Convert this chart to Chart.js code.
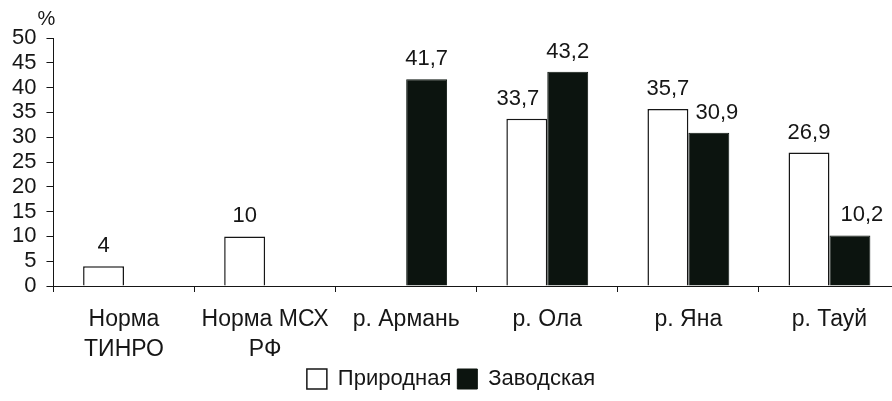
<!DOCTYPE html>
<html>
<head>
<meta charset="utf-8">
<script src="https://cdn.jsdelivr.net/npm/chart.js@4.4.1/dist/chart.umd.min.js"></script>
<style>
  html, body { margin: 0; padding: 0; background: #fff; overflow: hidden; }
  #wrap { width: 900px; height: 401px; }
</style>
</head>
<body>
<div id="wrap"><canvas id="smoltChart" width="900" height="401"></canvas></div>
<script>
const categories = [
    ['Норма', 'ТИНРО'],
    ['Норма МСХ', 'РФ'],
    'р. Армань',
    'р. Ола',
    'р. Яна',
    'р. Тауй'
];
const seriesNames = ['Природная', 'Заводская'];
const natural = [4, 10, null, 33.7, 35.7, 26.9];
const hatchery = [null, null, 41.7, 43.2, 30.9, 10.2];
const yTicks = [0, 5, 10, 15, 20, 25, 30, 35, 40, 45, 50];

const FONT = "'Liberation Sans', Arial, sans-serif";
const INK = '#161616';
const DARK = '#0c140f';

Chart.defaults.font.family = FONT;
Chart.defaults.color = INK;

// values above the bars, written with a decimal comma;
// a few are nudged sideways so neighbours don't collide
const valueLabels = {
    id: 'valueLabels',
    afterDatasetsDraw(chart, args, opts) {
        const ctx = chart.ctx;
        const shift = opts.shift || {};
        ctx.save();
        ctx.font = '22px ' + FONT;
        ctx.fillStyle = INK;
        ctx.textAlign = 'center';
        ctx.textBaseline = 'alphabetic';
        chart.data.datasets.forEach((ds, i) => {
            const meta = chart.getDatasetMeta(i);
            meta.data.forEach((bar, j) => {
                const v = ds.data[j];
                if (v === null || v === undefined) return;
                const txt = String(v).replace('.', ',');
                const dx = shift[i + ':' + j] || 0;
                ctx.fillText(txt, bar.x + dx, bar.y - 14);
            });
        });
        // unit mark over the value axis
        ctx.font = '20px ' + FONT;
        ctx.textAlign = 'left';
        ctx.fillText('%', chart.chartArea.left - 16, chart.chartArea.top - 13);
        ctx.restore();
    }
};

const ctx = document.getElementById('smoltChart').getContext('2d');
new Chart(ctx, {
    type: 'bar',
    data: {
        labels: categories,
        datasets: [
            {
                label: seriesNames[0],
                data: natural,
                backgroundColor: '#ffffff',
                borderColor: INK,
                borderWidth: 1.5,
                borderSkipped: 'bottom'
            },
            {
                label: seriesNames[1],
                data: hatchery,
                backgroundColor: DARK,
                borderColor: DARK,
                borderWidth: 1
            }
        ]
    },
    options: {
        responsive: false,
        animation: false,
        devicePixelRatio: 1,
        layout: { padding: { top: 38, left: 2, right: 0, bottom: 1 } },
        categoryPercentage: 0.58,
        barPercentage: 1,
        plugins: {
            tooltip: { enabled: false },
            title: { display: false },
            valueLabels: { shift: { '0:3': -9, '1:4': 8, '1:5': 12 } },
            legend: {
                position: 'bottom',
                labels: {
                    font: { size: 22 },
                    boxWidth: 20,
                    boxHeight: 20,
                    padding: 6,
                    color: INK
                }
            }
        },
        scales: {
            x: {
                // second label lines may hang into the legend band
                afterFit(scale) {
                    scale.height = 76;
                },
                grid: {
                    drawOnChartArea: false,
                    drawTicks: true,
                    tickLength: 6,
                    color: INK,
                    offset: true
                },
                border: { color: INK, width: 1 },
                ticks: {
                    font: { size: 23, lineHeight: 1.3 },
                    color: INK,
                    padding: 13,
                    maxRotation: 0,
                    autoSkip: false
                }
            },
            y: {
                min: 0,
                max: 50,
                afterBuildTicks(scale) {
                    scale.ticks = yTicks.map(v => ({ value: v }));
                },
                grid: {
                    drawOnChartArea: false,
                    drawTicks: true,
                    tickLength: 7,
                    color: INK
                },
                border: { color: INK, width: 1 },
                ticks: {
                    font: { size: 22 },
                    color: INK,
                    padding: 10,
                    autoSkip: false
                }
            }
        }
    },
    plugins: [valueLabels]
});
</script>
</body>
</html>
